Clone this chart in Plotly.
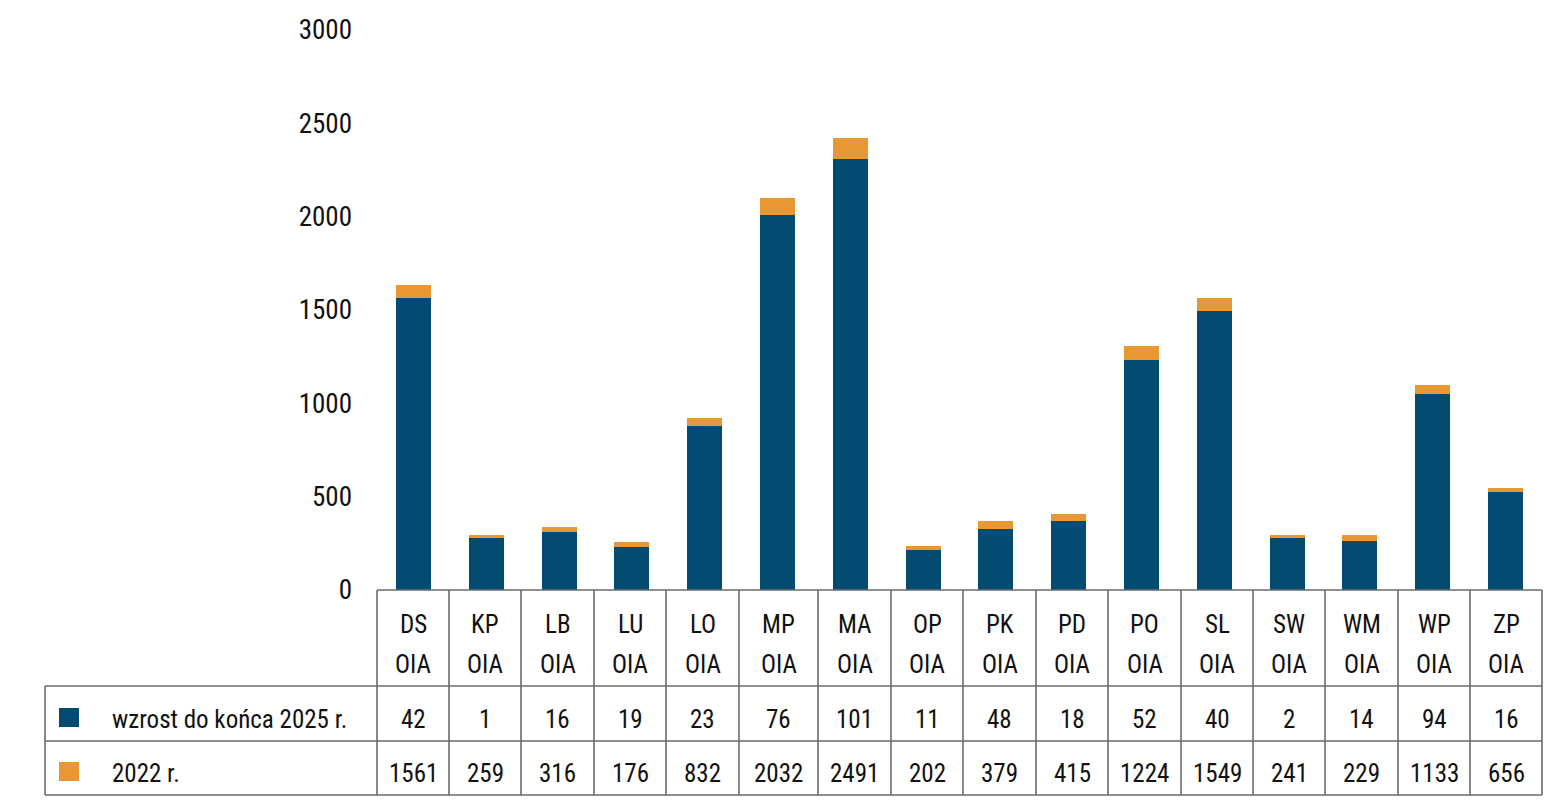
import plotly.graph_objects as go

categories = ["DS", "KP", "LB", "LU", "LO", "MP", "MA", "OP", "PK", "PD", "PO", "SL", "SW", "WM", "WP", "ZP"]
category_suffix = "OIA"
# bar heights
blue_values = [1566, 280, 309, 232, 879, 2007, 2311, 214, 327, 371, 1232, 1493, 280, 261, 1050, 523]
orange_values = [68, 13, 29, 24, 42, 93, 109, 22, 44, 36, 75, 71, 15, 34, 48, 25]
# data table rows as printed
row_labels = ["wzrost do końca 2025 r.", "2022 r."]
row_wzrost = ["42", "1", "16", "19", "23", "76", "101", "11", "48", "18", "52", "40", "2", "14", "94", "16"]
row_2022 = ["1561", "259", "316", "176", "832", "2032", "2491", "202", "379", "415", "1224", "1549", "241", "229", "1133", "656"]
y_ticks = [0, 500, 1000, 1500, 2000, 2500, 3000]

BLUE = "#034c71"
ORANGE = "#e79833"
LINE = "#6b6b6b"
FONT = "Roboto Condensed, Liberation Sans Narrow, DejaVu Sans Condensed, sans-serif"

W, H = 1550, 808
L, R, T, B = 377, 8, 30, 218
PH = H - T - B
PW = W - L - R
# table column borders (pixel layout)
COL_EDGES = [377, 449, 521, 594, 666, 739, 818, 891, 963, 1036, 1108, 1181, 1253, 1325, 1398, 1470, 1542]

def py(pix):
    return (H - B - pix) / PH

def px(pix):
    return (pix - L) / PW

xs = list(range(len(categories)))

fig = go.Figure()
fig.add_trace(go.Bar(x=xs, y=blue_values, marker=dict(color=BLUE, line=dict(width=0)),
                     name=row_labels[0], showlegend=False))
fig.add_trace(go.Bar(x=xs, y=orange_values, marker=dict(color=ORANGE, line=dict(width=0)),
                     name=row_labels[1], showlegend=False))

shapes = []
lw = 1.6
shapes.append(dict(type="line", xref="paper", yref="paper", x0=0, x1=1, y0=0, y1=0,
                   line=dict(color=LINE, width=lw)))
for yp in (686, 741, 795):
    shapes.append(dict(type="line", xref="paper", yref="paper", x0=px(45), x1=1, y0=py(yp), y1=py(yp),
                       line=dict(color=LINE, width=lw)))
shapes.append(dict(type="line", xref="paper", yref="paper", x0=px(45), x1=px(45), y0=py(686), y1=py(795),
                   line=dict(color=LINE, width=lw)))
for e in COL_EDGES:
    shapes.append(dict(type="line", xref="paper", yref="paper", x0=px(e), x1=px(e), y0=0, y1=py(795),
                       line=dict(color=LINE, width=lw)))
shapes.append(dict(type="rect", xref="paper", yref="paper", x0=px(59), x1=px(79), y0=py(727), y1=py(708),
                   fillcolor=BLUE, line=dict(width=0)))
shapes.append(dict(type="rect", xref="paper", yref="paper", x0=px(59), x1=px(79), y0=py(781), y1=py(762),
                   fillcolor=ORANGE, line=dict(width=0)))

annotations = []
tf = dict(family=FONT, size=25, color="#111111")
for i, c in enumerate(categories):
    cx = px((COL_EDGES[i] + COL_EDGES[i + 1]) / 2)
    for text, yp in ((c, 624), (category_suffix, 664), (row_wzrost[i], 719), (row_2022[i], 773)):
        annotations.append(dict(x=cx, y=py(yp), xref="paper", yref="paper", text=text, showarrow=False,
                                font=tf, xanchor="center", yanchor="middle"))
annotations.append(dict(x=px(110), y=py(719), xref="paper", yref="paper", text=row_labels[0], showarrow=False,
                        font=tf, xanchor="left", yanchor="middle"))
annotations.append(dict(x=px(110), y=py(773), xref="paper", yref="paper", text=row_labels[1], showarrow=False,
                        font=tf, xanchor="left", yanchor="middle"))

fig.update_layout(
    width=W, height=H,
    margin=dict(l=L, r=R, t=T, b=B, pad=0),
    paper_bgcolor="white", plot_bgcolor="white",
    barmode="stack", bargap=0.52,
    shapes=shapes, annotations=annotations,
    xaxis=dict(range=[-0.5, len(categories) - 0.5], showticklabels=False, showgrid=False,
               zeroline=False, showline=False, ticks=""),
    yaxis=dict(range=[0, 3000], tickvals=y_ticks, ticktext=[str(v) for v in y_ticks],
               showgrid=False, zeroline=False, showline=False, ticks="",
               ticklabelstandoff=24,
               tickfont=dict(family=FONT, size=27, color="#111111")),
)

fig.write_html("out.html")
